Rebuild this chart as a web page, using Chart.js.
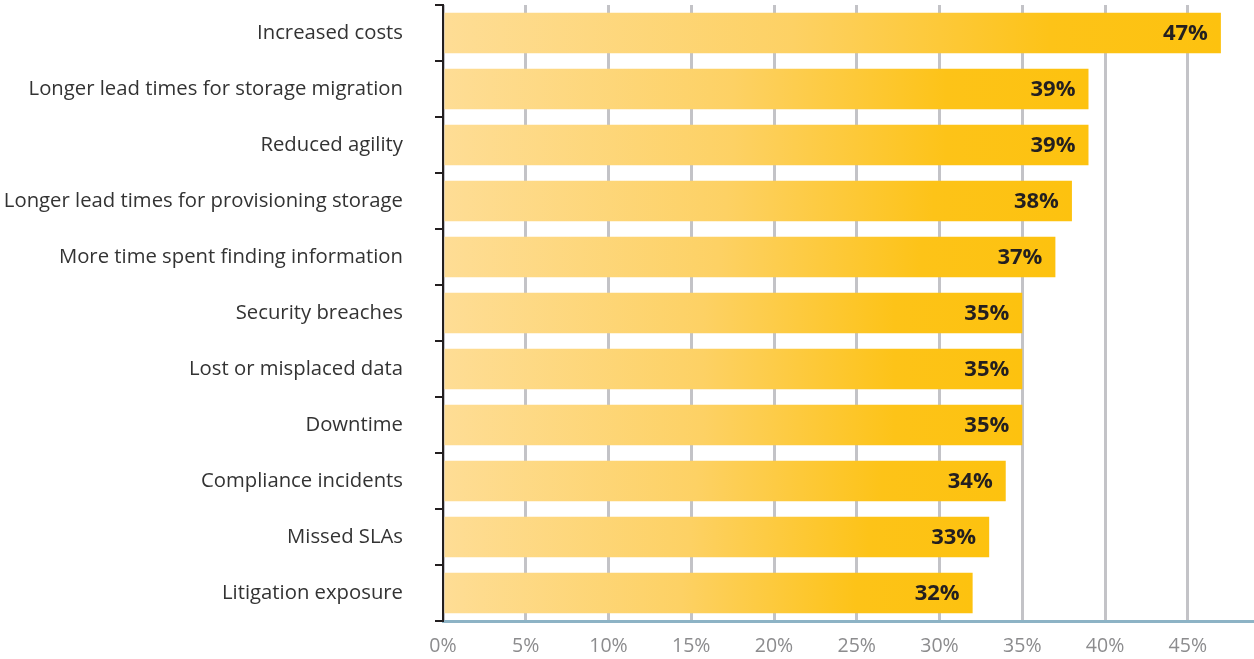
<!DOCTYPE html>
<html>
<head>
<meta charset="utf-8">
<script src="https://cdn.jsdelivr.net/npm/chart.js@4"></script>
<style>
  html, body { margin: 0; padding: 0; background: #fff; }
  #wrap { position: relative; width: 1254px; height: 659px; }
</style>
</head>
<body>
<div id="wrap"><canvas id="chart"></canvas></div>
<script>
// categories + values
const categories = [
  "Increased costs",
  "Longer lead times for storage migration",
  "Reduced agility",
  "Longer lead times for provisioning storage",
  "More time spent finding information",
  "Security breaches",
  "Lost or misplaced data",
  "Downtime",
  "Compliance incidents",
  "Missed SLAs",
  "Litigation exposure"
];
const percentValues = [47, 39, 39, 38, 37, 35, 35, 35, 34, 33, 32];
const xTickStep = 5;

// per-bar gradient, light on the left, full yellow near the end
function barGradient(context) {
  const chart = context.chart;
  const { ctx, chartArea, scales } = chart;
  if (!chartArea || context.raw === undefined) return "#fdc315";
  const x0 = scales.x.getPixelForValue(0);
  const x1 = scales.x.getPixelForValue(context.raw);
  const g = ctx.createLinearGradient(x0, 0, x1, 0);
  g.addColorStop(0, "#fedd95");
  g.addColorStop(0.45, "#fdd164");
  g.addColorStop(0.78, "#fdc318");
  g.addColorStop(1, "#fdc20f");
  return g;
}

// value labels inside the bar ends
const valueLabels = {
  id: "valueLabels",
  afterDatasetsDraw(chart) {
    const ctx = chart.ctx;
    const meta = chart.getDatasetMeta(0);
    ctx.save();
    ctx.font = "bold 22px 'Open Sans', sans-serif";
    ctx.fillStyle = "#231f20";
    ctx.textAlign = "right";
    ctx.textBaseline = "middle";
    meta.data.forEach((bar, i) => {
      ctx.fillText(percentValues[i] + "%", bar.x - 13, bar.y + 1);
    });
    ctx.restore();
  }
};

new Chart(document.getElementById("chart"), {
  type: "bar",
  data: {
    labels: categories,
    datasets: [{
      data: percentValues,
      backgroundColor: barGradient,
      borderWidth: 0,
      barPercentage: 0.72,
      categoryPercentage: 1
    }]
  },
  options: {
    indexAxis: "y",
    responsive: true,
    maintainAspectRatio: false,
    animation: false,
    layout: { padding: { top: 5, right: 0, bottom: 0, left: 0 } },
    plugins: {
      legend: { display: false },
      tooltip: { enabled: false }
    },
    scales: {
      x: {
        min: 0,
        max: 49,
        afterBuildTicks: (scale) => {
          scale.ticks = scale.ticks.filter(t => t.value % xTickStep === 0);
        },
        afterFit: (scale) => { scale.height = 38; },
        ticks: {
          stepSize: xTickStep,
          padding: 14,
          maxRotation: 0,
          color: "#8c8c8e",
          font: { family: "'Open Sans', sans-serif", size: 19.5 },
          callback: (v) => v + "%"
        },
        grid: {
          color: "#c3c3c7",
          lineWidth: 3,
          drawTicks: false
        },
        border: { color: "#8db3c5", width: 3 }
      },
      y: {
        afterFit: (scale) => {
          scale.width = 443;
          // the big label padding would otherwise push the plot down
          scale.paddingTop = 0;
          scale.paddingBottom = 0;
        },
        ticks: {
          padding: 32,
          color: "#333333",
          font: { family: "'Open Sans', sans-serif", size: 20.3 }
        },
        grid: {
          offset: true,
          drawOnChartArea: false,
          color: "#231f20",
          lineWidth: 2,
          tickLength: 8
        },
        border: { color: "#231f20", width: 2 }
      }
    }
  },
  plugins: [valueLabels]
});
</script>
</body>
</html>
